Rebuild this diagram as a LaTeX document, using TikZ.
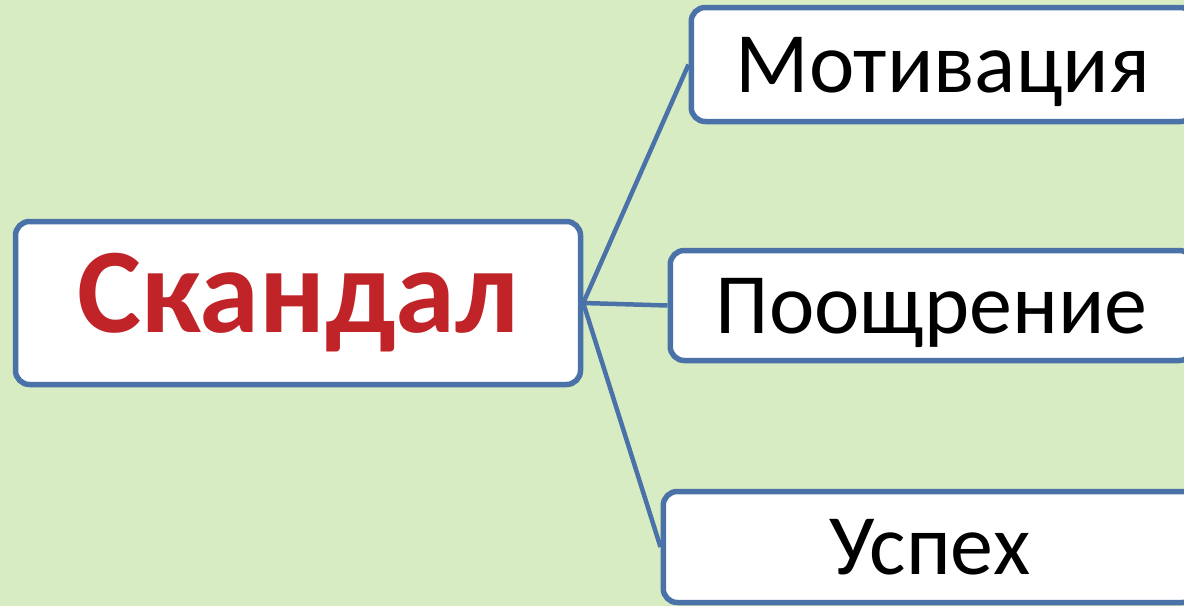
\documentclass[tikz,border=0pt]{standalone}
\usepackage{fontspec}
\setmainfont{Carlito}
\usetikzlibrary{positioning}
\definecolor{bgGreen}{RGB}{216,236,195}
\definecolor{lineBlue}{RGB}{74,114,168}
\definecolor{titleRed}{RGB}{192,36,40}
\tikzset{
  mapbox/.style={draw=lineBlue, line width=5.5pt, fill=white, rounded corners=14pt, inner sep=0pt},
  leafbox/.style={mapbox, anchor=west, font=\fontsize{86}{100}\selectfont, text depth=0pt},
  link/.style={draw=lineBlue, line width=4.5pt}
}
\begin{document}
\begin{tikzpicture}[x=1pt,y=-1pt]
    \useasboundingbox (0,0) rectangle (1184,606);
    \clip (0,0) rectangle (1184,606);
    \fill[bgGreen] (0,0) rectangle (1184,606);
    % root
    \node[mapbox, minimum width=565pt, minimum height=163pt,
          font=\fontsize{121}{140}\selectfont\bfseries, text=titleRed] (scandal) at (298,303) {Скандал};
    % leaves
    \node[leafbox, minimum width=503pt, minimum height=114pt] (motiv) at (688.5,64.5) {Мотивация};
    \node[leafbox, minimum width=523pt, minimum height=110pt] (reward) at (667.5,305.5) {Поощрение};
    \node[leafbox, minimum width=533pt, minimum height=111pt] (success) at (660.5,547) {Успех};
    % links
    \draw[link] (scandal.east)--(motiv.west);
    \draw[link] (scandal.east)--(reward.west);
    \draw[link] (scandal.east)--(success.west);
\end{tikzpicture}
\end{document}
